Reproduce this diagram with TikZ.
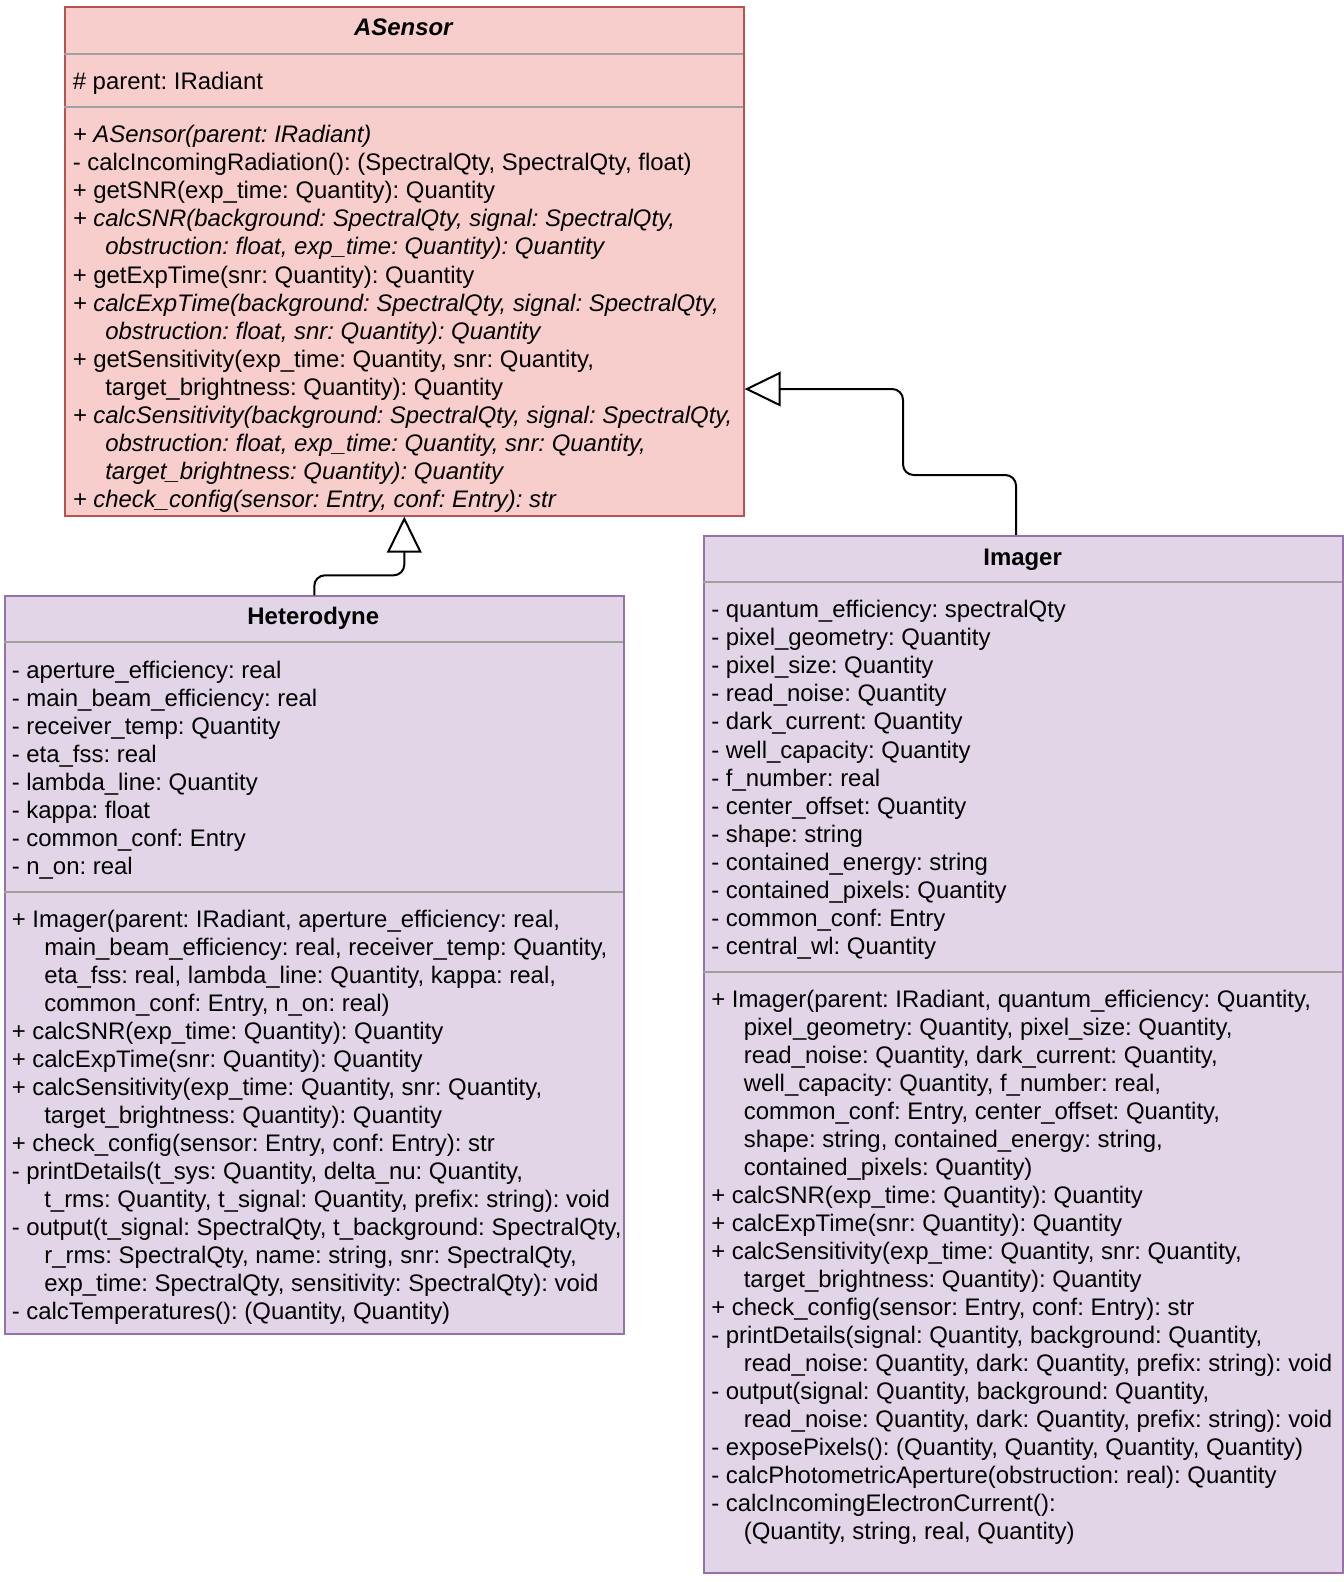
\documentclass[tikz,border=0pt]{standalone}
\usepackage{fontspec}
\setmainfont{Liberation Sans}
\usetikzlibrary{arrows.meta}
\definecolor{redfill}{HTML}{F8CECC}
\definecolor{redline}{HTML}{B85450}
\definecolor{purfill}{HTML}{E1D5E7}
\definecolor{purline}{HTML}{9673A6}
\definecolor{sepgray}{HTML}{A0A0A0}
\newcommand\indt{\hspace*{24.4pt}}
\frenchspacing
\begin{document}
\frenchspacing
\begin{tikzpicture}[x=0.75pt,y=-0.75pt,
  txt/.style={anchor=base west,inner sep=0pt,font=\fontsize{17.95}{21}\selectfont\frenchspacing},
  ttl/.style={anchor=base,inner sep=0pt,font=\fontsize{17.95}{21}\selectfont\bfseries},
  classbox/.style={line width=1.5pt,anchor=north west,inner sep=0pt},
  redbox/.style={classbox,draw=redline,fill=redfill},
  purbox/.style={classbox,draw=purline,fill=purfill},
  sep/.style={draw=sepgray,line width=1.5pt},
  inh/.style={draw=black,line width=1.5pt,rounded corners=8pt,
    -{Triangle[length=27pt,width=26pt,fill=white,line width=1.5pt]}}
]
\fill[white] (0,0) rectangle (1344,1582);
\useasboundingbox (0,0) rectangle (1344,1582);

% boxes
\node[redbox,minimum width=508.95pt,minimum height=381.45pt] (asensor) at (64,6) {};
\node[purbox,minimum width=463.95pt,minimum height=553.3pt] (het) at (4,595.3) {};
\node[purbox,minimum width=479.0pt,minimum height=777.9pt] (img) at (703.3,534.8) {};

% separators
\draw[sep] (64,53.5) -- (742.6,53.5);
\draw[sep] (64,107) -- (742.6,107);
\draw[sep] (4,642) -- (622.6,642);
\draw[sep] (4,892) -- (622.6,892);
\draw[sep] (703.3,582) -- (1342,582);
\draw[sep] (703.3,972) -- (1342,972);

% titles
\node[ttl,font=\fontsize{17.95}{21}\selectfont\bfseries\itshape] (asTitle) at (403.3,35.2) {ASensor};
\node[ttl] (hetTitle) at (313.3,624.5) {Heterodyne};
\node[ttl] (imgTitle) at (1022.6,565) {Imager};

% ASensor
\node[txt] (asAttr) at (72.5,89.2) {\# parent: IRadiant};
\foreach \t [count=\i from 0] in {
 {\itshape + ASensor(parent: IRadiant)},
 {- calcIncomingRadiation(): (SpectralQty, SpectralQty, float)},
 {+ getSNR(exp\_time: Quantity): Quantity},
 {\itshape + calcSNR(background: SpectralQty, signal: SpectralQty,},
 {\itshape \indt obstruction: float, exp\_time: Quantity): Quantity},
 {+ getExpTime(snr: Quantity): Quantity},
 {\itshape + calcExpTime(background: SpectralQty, signal: SpectralQty,},
 {\itshape \indt obstruction: float, snr: Quantity): Quantity},
 {+ getSensitivity(exp\_time: Quantity, snr: Quantity,},
 {\indt target\_brightness: Quantity): Quantity},
 {\itshape + calcSensitivity(background: SpectralQty, signal: SpectralQty,},
 {\itshape \indt obstruction: float, exp\_time: Quantity, snr: Quantity,},
 {\itshape \indt target\_brightness: Quantity): Quantity},
 {\itshape + check\_config(sensor: Entry, conf: Entry): str}}
 \node[txt] (asm\i) at (72.5,{142.9+28.02*\i}) {\t};

% Heterodyne
\foreach \t [count=\i from 0] in {
 {- aperture\_efficiency: real},
 {- main\_beam\_efficiency: real},
 {- receiver\_temp: Quantity},
 {- eta\_fss: real},
 {- lambda\_line: Quantity},
 {- kappa: float},
 {- common\_conf: Entry},
 {- n\_on: real}}
 \node[txt] (hta\i) at (11.5,{678.5+28.02*\i}) {\t};
\foreach \t [count=\i from 0] in {
 {+ Imager(parent: IRadiant, aperture\_efficiency: real,},
 {\indt main\_beam\_efficiency: real, receiver\_temp: Quantity,},
 {\indt eta\_fss: real, lambda\_line: Quantity, kappa: real,},
 {\indt common\_conf: Entry, n\_on: real)},
 {+ calcSNR(exp\_time: Quantity): Quantity},
 {+ calcExpTime(snr: Quantity): Quantity},
 {+ calcSensitivity(exp\_time: Quantity, snr: Quantity,},
 {\indt target\_brightness: Quantity): Quantity},
 {+ check\_config(sensor: Entry, conf: Entry): str},
 {- printDetails(t\_sys: Quantity, delta\_nu: Quantity,},
 {\indt t\_rms: Quantity, t\_signal: Quantity, prefix: string): void},
 {- output(t\_signal: SpectralQty, t\_background: SpectralQty,},
 {\indt r\_rms: SpectralQty, name: string, snr: SpectralQty,},
 {\indt exp\_time: SpectralQty, sensitivity: SpectralQty): void},
 {- calcTemperatures(): (Quantity, Quantity)}}
 \node[txt] (htm\i) at (11.5,{927.7+28.02*\i}) {\t};

% Imager
\foreach \t [count=\i from 0] in {
 {- quantum\_efficiency: spectralQty},
 {- pixel\_geometry: Quantity},
 {- pixel\_size: Quantity},
 {- read\_noise: Quantity},
 {- dark\_current: Quantity},
 {- well\_capacity: Quantity},
 {- f\_number: real},
 {- center\_offset: Quantity},
 {- shape: string},
 {- contained\_energy: string},
 {- contained\_pixels: Quantity},
 {- common\_conf: Entry},
 {- central\_wl: Quantity}}
 \node[txt] (ima\i) at (711,{617.9+28.02*\i}) {\t};
\foreach \t [count=\i from 0] in {
 {+ Imager(parent: IRadiant, quantum\_efficiency: Quantity,},
 {\indt pixel\_geometry: Quantity, pixel\_size: Quantity,},
 {\indt read\_noise: Quantity, dark\_current: Quantity,},
 {\indt well\_capacity: Quantity, f\_number: real,},
 {\indt common\_conf: Entry, center\_offset: Quantity,},
 {\indt shape: string, contained\_energy: string,},
 {\indt contained\_pixels: Quantity)},
 {+ calcSNR(exp\_time: Quantity): Quantity},
 {+ calcExpTime(snr: Quantity): Quantity},
 {+ calcSensitivity(exp\_time: Quantity, snr: Quantity,},
 {\indt target\_brightness: Quantity): Quantity},
 {+ check\_config(sensor: Entry, conf: Entry): str},
 {- printDetails(signal: Quantity, background: Quantity,},
 {\indt read\_noise: Quantity, dark: Quantity, prefix: string): void},
 {- output(signal: Quantity, background: Quantity,},
 {\indt read\_noise: Quantity, dark: Quantity, prefix: string): void},
 {- exposePixels(): (Quantity, Quantity, Quantity, Quantity)},
 {- calcPhotometricAperture(obstruction: real): Quantity},
 {- calcIncomingElectronCurrent():},
 {\indt (Quantity, string, real, Quantity)}}
 \node[txt] (imm\i) at (711,{1007.4+28.02*\i}) {\t};

% inheritance connectors
\draw[inh] (het.north) -- ++(0,-20) -| (asensor.south);
\draw[inh] ([xshift=-5.7pt]img.north) |- (903,475) |- ([yshift=-95.8pt]asensor.east);
\end{tikzpicture}
\end{document}
